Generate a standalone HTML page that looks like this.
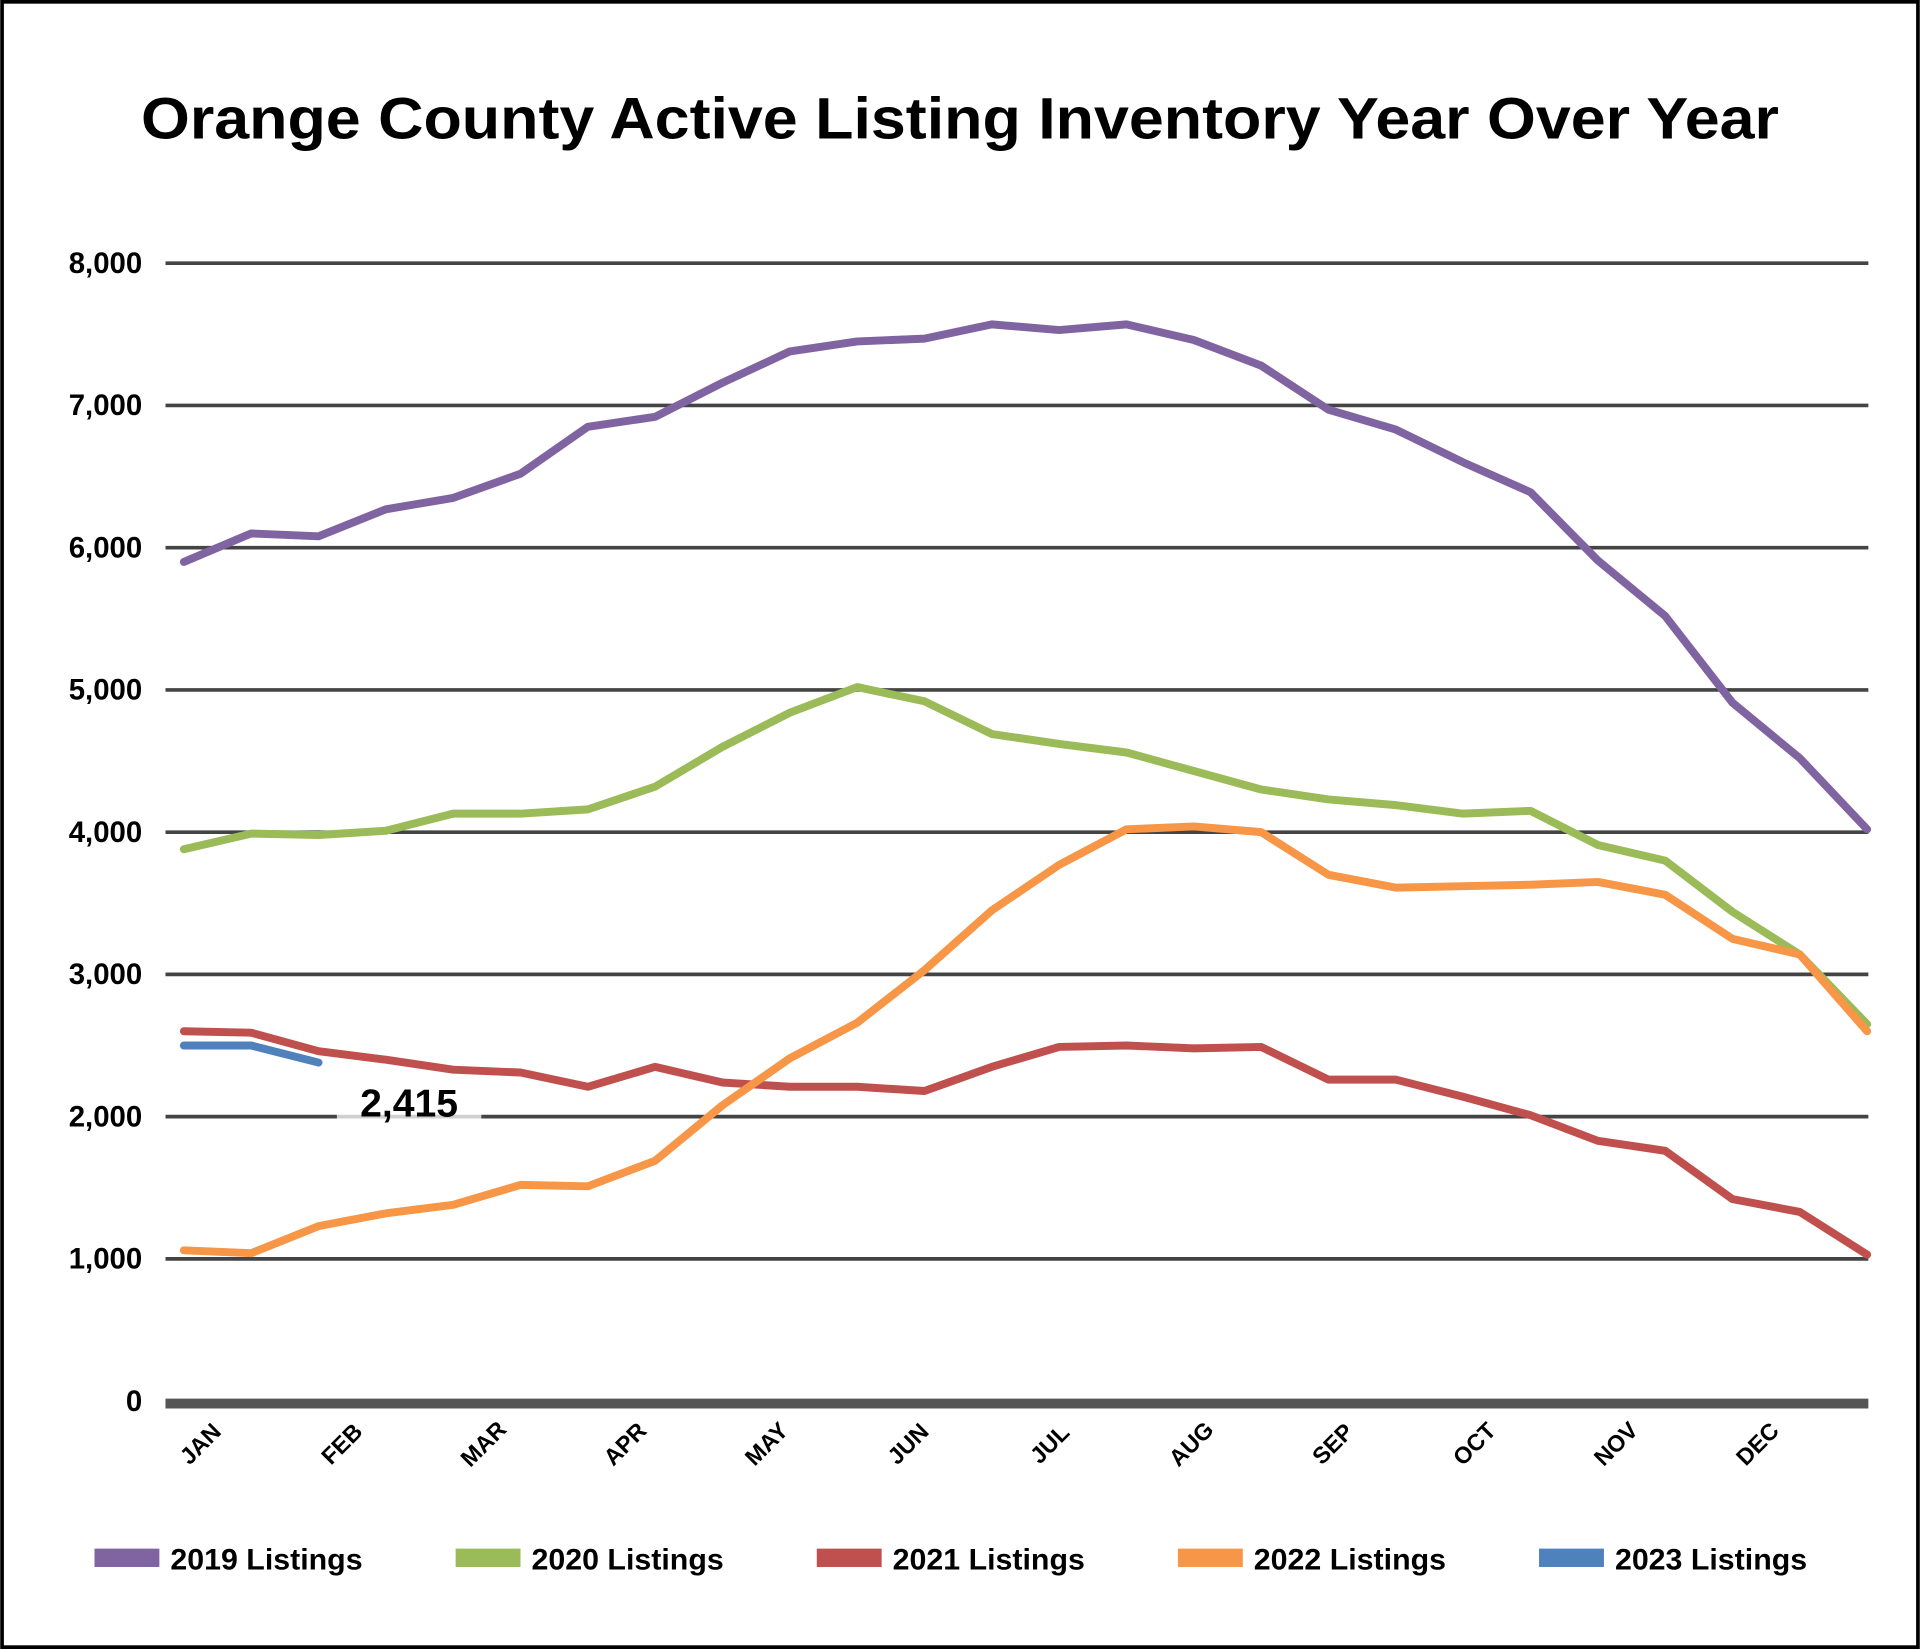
<!DOCTYPE html>
<html><head><meta charset="utf-8"><style>
html,body{margin:0;padding:0;background:#fff}
svg{display:block;font-family:"Liberation Sans",sans-serif}
</style></head><body>
<svg width="1920" height="1649" viewBox="0 0 1568 1347" id="chart">
<rect x="1.5" y="1.5" width="1565" height="1344" fill="#fff" stroke="#000" stroke-width="3"/>
<text x="784" y="113" text-anchor="middle" font-size="48" font-weight="bold" textLength="1338" lengthAdjust="spacingAndGlyphs">Orange County Active Listing Inventory Year Over Year</text>
<g id="grid"></g><g id="series"></g><g id="xlabels"></g>
<g font-size="24" font-weight="bold" id="legend"></g>
</svg>
<script>
const months=["JAN","FEB","MAR","APR","MAY","JUN","JUL","AUG","SEP","OCT","NOV","DEC"];
const yTicks=[0,1000,2000,3000,4000,5000,6000,7000,8000];
const seriesNames=["2019 Listings","2020 Listings","2021 Listings","2022 Listings","2023 Listings"];
const s2019=[5900,6100,6080,6270,6350,6520,6850,6920,7160,7380,7450,7470,7570,7530,7570,7460,7280,6970,6830,6600,6390,5910,5520,4910,4520,4020];
const s2020=[3880,3990,3980,4010,4130,4130,4160,4320,4600,4840,5020,4920,4690,4620,4560,4430,4300,4230,4190,4130,4150,3910,3800,3440,3140,2650];
const s2021=[2600,2590,2460,2400,2330,2310,2210,2350,2240,2210,2210,2180,2350,2490,2500,2480,2490,2260,2260,2140,2010,1830,1760,1420,1330,1030];
const s2022=[1060,1040,1230,1320,1380,1520,1510,1690,2080,2410,2660,3030,3450,3770,4020,4040,4000,3700,3610,3620,3630,3650,3560,3250,3140,2600];
const s2023=[2500,2500,2380];
const annotation="2,415";
const NS="http://www.w3.org/2000/svg";
const colors=["#8064a2","#9bbb59","#c0504d","#f79646","#4f81bd"];
const allSeries=[s2019,s2020,s2021,s2022,s2023];
const X0=150,X1=1525,Y0=1144.5,Y8=215;
const xs=i=>X0+i*(X1-X0)/25;
const ys=v=>Y0-v*(Y0-Y8)/8000;
function mk(tag,attrs,parent){const e=document.createElementNS(NS,tag);for(const k in attrs)e.setAttribute(k,attrs[k]);parent.appendChild(e);return e;}
const grid=document.getElementById('grid');
yTicks.forEach(v=>{
  const y=ys(v);
  const l=mk('line',{x1:135,x2:1526,y1:v===0?y+2:y,y2:v===0?y+2:y,stroke:v===0?'#555':'#444','stroke-width':v===0?8:3},grid);
  
  
  const t=mk('text',{x:116,y:y+8,'text-anchor':'end','font-size':24,'font-weight':'bold'},grid);
  t.textContent=v.toLocaleString('en-US');
  
  
});
const sg=document.getElementById('series');
allSeries.forEach((s,k)=>{
  const p=mk('polyline',{points:s.map((v,i)=>xs(i)+','+ys(v)).join(' '),fill:'none',stroke:colors[k],'stroke-width':6.5,'stroke-linejoin':'round','stroke-linecap':'round'},sg);
  
  
});
const ar=mk('rect',{x:275,y:886,width:118,height:30,fill:'#fff','fill-opacity':0.75},sg);


const at=mk('text',{x:334,y:912,'text-anchor':'middle','font-size':32,'font-weight':'bold'},sg);
at.textContent=annotation;


const xl=document.getElementById('xlabels');
months.forEach((m,i)=>{
  const x=168+i*(1440-168)/11;
  const t=mk('text',{x:x,y:1184,'text-anchor':'middle','font-size':19,'font-weight':'bold',transform:`rotate(-45 ${x} 1184)`},xl);
  t.textContent=m;
  
  
});
const lg=document.getElementById('legend');
seriesNames.forEach((n,k)=>{
  const x=77+k*295;
  const r=mk('rect',{x:x,y:1265,width:53,height:15,fill:colors[k]},lg);
  
  
  const t=mk('text',{x:x+62,y:1282,textLength:157,lengthAdjust:'spacingAndGlyphs'},lg);
  t.textContent=n;
  
  
});
</script>
</body></html>
